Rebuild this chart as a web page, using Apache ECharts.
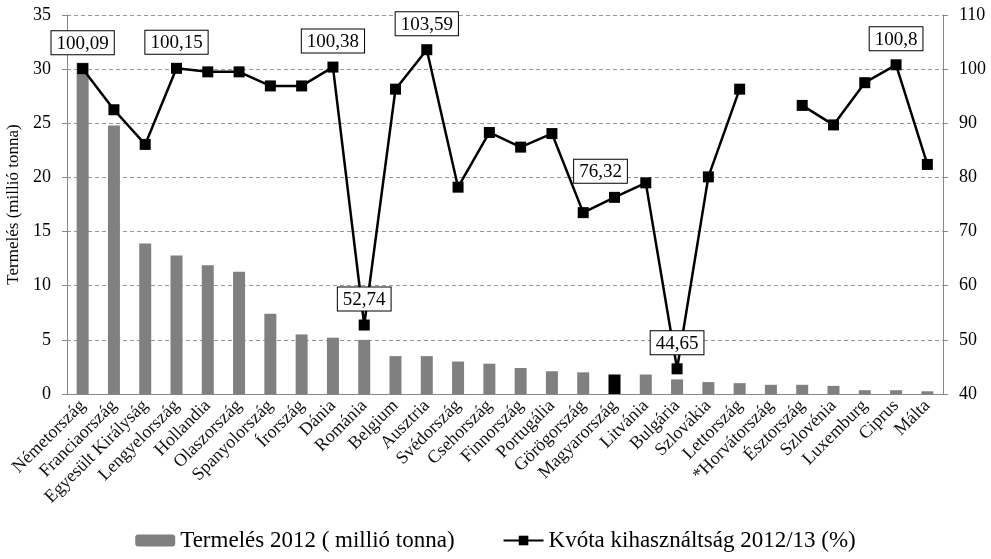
<!DOCTYPE html>
<html>
<head>
<meta charset="utf-8">
<script src="https://cdn.jsdelivr.net/npm/echarts@6/dist/echarts.min.js"></script>
<style>
  * { margin: 0; padding: 0; }
  html, body { background: #fff; }
  #chart-container { width: 991px; height: 559px; }
</style>
</head>
<body>
<div id="chart-container"></div>
<script>
  var categories = ['Németország', 'Franciaország', 'Egyesült Királyság', 'Lengyelország', 'Hollandia',
    'Olaszország', 'Spanyolország', 'Írország', 'Dánia', 'Románia', 'Belgium', 'Ausztria',
    'Svédország', 'Csehország', 'Finnország', 'Portugália', 'Görögország', 'Magyarország',
    'Litvánia', 'Bulgária', 'Szlovákia', 'Lettország', '*Horvátország', 'Észtország',
    'Szlovénia', 'Luxemburg', 'Ciprus', 'Málta']
  // Termelés 2012 (millió tonna)
  var production = [30.6, 24.8, 13.9, 12.8, 11.9, 11.3, 7.4, 5.5, 5.2, 5.0, 3.5, 3.5,
    3.0, 2.8, 2.4, 2.1, 2.0, 1.8, 1.8, 1.35, 1.1, 1.0, 0.85, 0.85, 0.75, 0.35, 0.35, 0.25]
  // Kvóta kihasználtság 2012/13 (%)
  var quotaUse = [100.09, 92.5, 86.1, 100.15, 99.5, 99.5, 96.9, 96.9, 100.38, 52.74, 96.3, 103.59,
    78.2, 88.3, 85.6, 88.1, 73.5, 76.32, 79.0, 44.65, 80.1, 96.3, null, 93.3, 89.7, 97.5, 100.8, 82.4]
  var labeledCountries = ['Németország', 'Lengyelország', 'Dánia', 'Ausztria', 'Románia',
    'Magyarország', 'Bulgária', 'Ciprus']
  var highlightCountry = 'Magyarország'

  var serif = "'Liberation Serif', 'Times New Roman', serif"
  var labelOffset = { 'Magyarország': [-14, 0] }

  var myChart = echarts.init(document.getElementById('chart-container'), null, { renderer: 'canvas' })

  var barData = production.map(function (v, i) {
    if (categories[i] === highlightCountry) {
      return { value: v, itemStyle: { color: '#000', borderColor: '#000', borderWidth: 1.5 } }
    }
    return v
  })

  var lineData = quotaUse.map(function (v, i) {
    var name = categories[i]
    if (labeledCountries.indexOf(name) >= 0) {
      return { value: v, label: { show: true, offset: labelOffset[name] || [0, 0] } }
    }
    return v
  })

  var option = {
    animation: false,
    textStyle: { fontFamily: serif },
    grid: { left: 67, right: 48, top: 15, bottom: 165, outerBoundsMode: 'none' },
    legend: {
      bottom: 2,
      left: 'center',
      itemWidth: 40,
      itemHeight: 12,
      itemGap: 48,
      textStyle: { fontFamily: serif, fontSize: 23, color: '#000' },
      data: ['Termelés 2012 ( millió tonna)', 'Kvóta kihasználtság 2012/13 (%)']
    },
    xAxis: {
      type: 'category',
      data: categories,
      axisTick: { show: false },
      axisLine: { lineStyle: { color: '#888', width: 1 } },
      axisLabel: {
        interval: 0,
        rotate: 45,
        margin: 9,
        fontFamily: serif,
        fontSize: 18,
        color: '#111'
      }
    },
    yAxis: [
      {
        type: 'value',
        min: 0,
        max: 35,
        interval: 5,
        name: 'Termelés (millió tonna)',
        nameLocation: 'middle',
        nameGap: 43,
        nameTextStyle: { fontFamily: serif, fontSize: 17, color: '#000' },
        axisLine: { show: true, lineStyle: { color: '#888' } },
        axisTick: { show: true, length: 5, lineStyle: { color: '#888' } },
        axisLabel: { fontFamily: serif, fontSize: 18, color: '#000', margin: 16 },
        splitLine: { lineStyle: { color: '#999', type: [4, 3], width: 1 } }
      },
      {
        type: 'value',
        min: 40,
        max: 110,
        interval: 10,
        position: 'right',
        axisLine: { show: true, lineStyle: { color: '#888' } },
        axisTick: { show: true, length: 5, lineStyle: { color: '#888' } },
        axisLabel: { fontFamily: serif, fontSize: 18, color: '#000', margin: 16 },
        splitLine: { show: false }
      }
    ],
    series: [
      {
        name: 'Termelés 2012 ( millió tonna)',
        type: 'bar',
        yAxisIndex: 0,
        barWidth: 12,
        itemStyle: { color: '#808080' },
        data: barData
      },
      {
        name: 'Kvóta kihasználtság 2012/13 (%)',
        type: 'line',
        yAxisIndex: 1,
        connectNulls: false,
        symbol: 'rect',
        symbolSize: 11,
        lineStyle: { color: '#000', width: 2.5 },
        itemStyle: { color: '#000' },
        label: {
          show: false,
          position: 'top',
          distance: 9,
          fontFamily: serif,
          fontSize: 19,
          color: '#000',
          backgroundColor: '#fff',
          borderColor: '#000',
          borderWidth: 1,
          padding: [3, 5, 1, 5],
          formatter: function (p) {
            return String(p.value).replace('.', ',')
          }
        },
        data: lineData
      }
    ]
  }

  myChart.setOption(option)
  window.addEventListener('resize', myChart.resize)
</script>
</body>
</html>
